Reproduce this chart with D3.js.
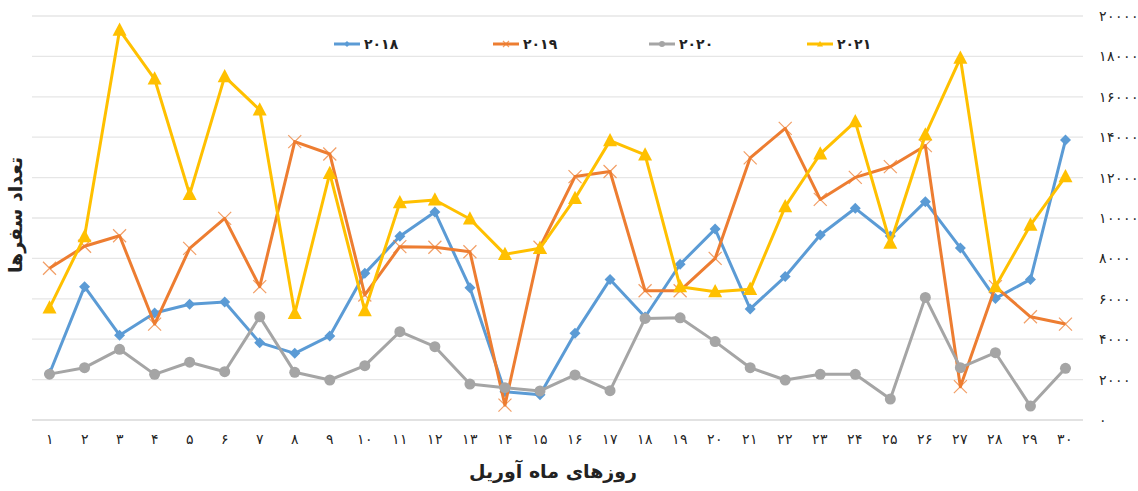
<!DOCTYPE html>
<html>
<head>
<meta charset="utf-8">
<script src="https://cdn.jsdelivr.net/npm/d3@7"></script>
<style>
  body { margin: 0; background: #fff; }
  svg { display: block; font-family: "DejaVu Sans", sans-serif; }
</style>
</head>
<body>
<div id="chart"></div>
<script>
var days = d3.range(1, 31);
var yTicks = [0, 2000, 4000, 6000, 8000, 10000, 12000, 14000, 16000, 18000, 20000];

var s2018 = [2300, 6600, 4200, 5300, 5730, 5840, 3830, 3300, 4160, 7260, 9100, 10300, 6550, 1400, 1250, 4290, 6960, 5100, 7710, 9450, 5500, 7100, 9160, 10480, 9110, 10810, 8520, 6020, 6960, 13860];
var s2019 = [7510, 8600, 9120, 4750, 8500, 9980, 6600, 13780, 13170, 6190, 8580, 8550, 8330, 740, 8550, 12050, 12300, 6400, 6400, 8000, 12980, 14440, 10920, 12010, 12540, 13580, 1650, 6600, 5110, 4750];
var s2020 = [2270, 2590, 3500, 2260, 2860, 2390, 5110, 2360, 1980, 2690, 4370, 3630, 1780, 1600, 1440, 2230, 1450, 5030, 5060, 3880, 2590, 1980, 2260, 2260, 1040, 6070, 2590, 3330, 690, 2560];
var s2021 = [5550, 9080, 19300, 16880, 11170, 17000, 15350, 5280, 12210, 5410, 10760, 10890, 9950, 8200, 8500, 10970, 13830, 13120, 6600, 6350, 6470, 10560, 13170, 14770, 8750, 14110, 17910, 6600, 9650, 12050];

var seriesNames = ["2018", "2019", "2020", "2021"];
var seriesData = [s2018, s2019, s2020, s2021];
var colors = ["#5B9BD5", "#ED7D31", "#A5A5A5", "#FFC000"];
var symbols = ["diamond", "cross", "circle", "triangle"];
var legendX = [334, 493, 649, 807];

function fa(n) {
    var digits = "۰۱۲۳۴۵۶۷۸۹";
    return String(n).replace(/[0-9]/g, function(c) { return digits[+c]; });
}

var svgW = 1138;
var svgH = 491;
var plot = { left: 32, right: 1083, top: 16, bottom: 420 };

var svg = d3.select("#chart")
    .append("svg")
    .attr("width", svgW)
    .attr("height", svgH);

var xScale = d3.scaleBand()
    .domain(days)
    .range([plot.left, plot.right]);

var yScale = d3.scaleLinear()
    .domain([0, 20000])
    .range([plot.bottom, plot.top]);

// gridlines
svg.append("g")
    .selectAll("line")
    .data(yTicks)
    .enter()
    .append("line")
    .attr("x1", plot.left)
    .attr("x2", plot.right)
    .attr("y1", function(d) { return yScale(d) })
    .attr("y2", function(d) { return yScale(d) })
    .attr("stroke", function(d) { return d == 0 ? "#d9d9d9" : "#e6e6e6" })
    .attr("stroke-width", 1.3);

// right axis labels
var rAxis = d3.axisRight(yScale)
    .tickValues(yTicks)
    .tickSize(0)
    .tickPadding(0)
    .tickFormat(fa);

svg.append("g")
    .attr("transform", `translate(1099, 0)`)
    .call(rAxis)
    .call(function(g) { g.select(".domain").remove() })
    .selectAll("text")
    .attr("font-size", 14)
    .attr("fill", "#222");

// bottom axis labels
var bAxis = d3.axisBottom(xScale)
    .tickSize(0)
    .tickPadding(0)
    .tickFormat(fa);

svg.append("g")
    .attr("transform", `translate(0, 434)`)
    .call(bAxis)
    .call(function(g) { g.select(".domain").remove() })
    .selectAll("text")
    .attr("font-size", 14)
    .attr("fill", "#222");

// titles
svg.append("text")
    .attr("x", 553)
    .attr("y", 478)
    .attr("text-anchor", "middle")
    .attr("font-size", 19)
    .attr("font-weight", "bold")
    .attr("fill", "#222")
    .text("روزهای ماه آوریل");

svg.append("text")
    .attr("transform", "translate(22, 215) rotate(-90)")
    .attr("text-anchor", "middle")
    .attr("font-size", 19)
    .attr("font-weight", "bold")
    .attr("fill", "#222")
    .text("تعداد سفرها");

var line = d3.line()
    .x(function(d, i) { return xScale(days[i]) + xScale.bandwidth() / 2 })
    .y(function(d) { return yScale(d) });

function drawMarker(g, kind, color, size) {
    if (kind == "cross") {
        var h = size / 2;
        g.append("path")
            .attr("d", `M${-h},${-h}L${h},${h}M${-h},${h}L${h},${-h}`)
            .attr("stroke", color)
            .attr("stroke-opacity", 0.75)
            .attr("stroke-width", 1.2)
            .attr("fill", "none");
    } else if (kind == "diamond") {
        var h = size / 2;
        g.append("path")
            .attr("d", `M0,${-h}L${h},0L0,${h}L${-h},0Z`)
            .attr("fill", color);
    } else if (kind == "triangle") {
        var h = size / 2;
        g.append("path")
            .attr("d", `M0,${-h * 1.1}L${h},${h * 0.8}L${-h},${h * 0.8}Z`)
            .attr("fill", color);
    } else {
        g.append("circle")
            .attr("r", size / 2)
            .attr("fill", color);
    }
}

var markerSize = [11, 13, 11, 14];

seriesData.forEach(function(vals, k) {
    var g = svg.append("g");
    g.append("path")
        .datum(vals)
        .attr("d", line)
        .attr("fill", "none")
        .attr("stroke", colors[k])
        .attr("stroke-width", 3)
        .attr("stroke-linejoin", "round");

    vals.forEach(function(v, i) {
        var m = g.append("g")
            .attr("transform", `translate(${xScale(days[i]) + xScale.bandwidth() / 2}, ${yScale(v)})`);
        drawMarker(m, symbols[k], colors[k], markerSize[k]);
    });
});

// legend
var legend = svg.append("g");
seriesNames.forEach(function(name, k) {
    var lg = legend.append("g")
        .attr("transform", `translate(${legendX[k]}, 44)`);
    lg.append("line")
        .attr("x1", 0)
        .attr("x2", 26)
        .attr("stroke", colors[k])
        .attr("stroke-width", 3);
    var m = lg.append("g").attr("transform", "translate(13, 0)");
    drawMarker(m, symbols[k], colors[k], 6);
    lg.append("text")
        .attr("x", 30)
        .attr("y", 5)
        .attr("font-size", 14)
        .attr("font-weight", "bold")
        .attr("fill", "#222")
        .text(fa(name));
});
</script>
</body>
</html>
